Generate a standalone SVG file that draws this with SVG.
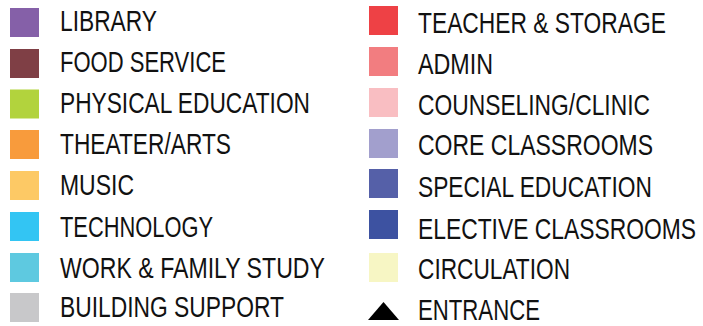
<svg xmlns="http://www.w3.org/2000/svg" width="703" height="326" viewBox="0 0 703 326">
<style>
text{font-family:"Liberation Sans",Arial,sans-serif;font-size:29px;fill:#111;}
</style>
<rect width="703" height="326" fill="#fff"/>
<g id="library"><rect x="10" y="8" width="29" height="29" fill="#8560a8"/><text transform="scale(0.78,1)" x="76.92" y="31" textLength="124.4" lengthAdjust="spacingAndGlyphs">LIBRARY</text></g>
<g id="food"><rect x="10" y="49" width="29" height="29" fill="#7f3f45"/><text transform="scale(0.78,1)" x="76.92" y="72" textLength="212.8" lengthAdjust="spacingAndGlyphs">FOOD SERVICE</text></g>
<g id="pe"><rect x="10" y="89.5" width="29" height="29" fill="#b2d33d"/><text transform="scale(0.78,1)" x="76.92" y="113" textLength="320.5" lengthAdjust="spacingAndGlyphs">PHYSICAL EDUCATION</text></g>
<g id="theater"><rect x="10" y="130" width="29" height="29" fill="#f89b3c"/><text transform="scale(0.78,1)" x="76.92" y="154" textLength="219.2" lengthAdjust="spacingAndGlyphs">THEATER/ARTS</text></g>
<g id="music"><rect x="10" y="171" width="29" height="29" fill="#fdc965"/><text transform="scale(0.78,1)" x="76.92" y="195" textLength="94.9" lengthAdjust="spacingAndGlyphs">MUSIC</text></g>
<g id="technology"><rect x="10" y="212" width="29" height="29" fill="#33c5f3"/><text transform="scale(0.78,1)" x="76.92" y="237" textLength="196.2" lengthAdjust="spacingAndGlyphs">TECHNOLOGY</text></g>
<g id="work"><rect x="10" y="253" width="29" height="29" fill="#5ec9e0"/><text transform="scale(0.78,1)" x="76.92" y="278" textLength="339.7" lengthAdjust="spacingAndGlyphs">WORK &amp; FAMILY STUDY</text></g>
<g id="building"><rect x="10" y="293" width="29" height="29" fill="#c8c8ca"/><text transform="scale(0.78,1)" x="76.92" y="317" textLength="287.2" lengthAdjust="spacingAndGlyphs">BUILDING SUPPORT</text></g>
<g id="teacher"><rect x="369" y="6" width="29" height="29" fill="#ee4145"/><text transform="scale(0.78,1)" x="535.9" y="33" textLength="317.9" lengthAdjust="spacingAndGlyphs">TEACHER &amp; STORAGE</text></g>
<g id="admin"><rect x="369" y="47" width="29" height="29" fill="#f27d80"/><text transform="scale(0.78,1)" x="535.9" y="74" textLength="96.2" lengthAdjust="spacingAndGlyphs">ADMIN</text></g>
<g id="counseling"><rect x="369" y="88" width="29" height="29" fill="#f9bec2"/><text transform="scale(0.78,1)" x="535.9" y="115" textLength="297.4" lengthAdjust="spacingAndGlyphs">COUNSELING/CLINIC</text></g>
<g id="core"><rect x="369" y="129" width="29" height="29" fill="#a29fcd"/><text transform="scale(0.78,1)" x="535.9" y="155.5" textLength="301.3" lengthAdjust="spacingAndGlyphs">CORE CLASSROOMS</text></g>
<g id="special"><rect x="369" y="169" width="29" height="29" fill="#5560a8"/><text transform="scale(0.78,1)" x="535.9" y="197" textLength="300" lengthAdjust="spacingAndGlyphs">SPECIAL EDUCATION</text></g>
<g id="elective"><rect x="369" y="210" width="29" height="29" fill="#3d52a1"/><text transform="scale(0.78,1)" x="535.9" y="239" textLength="356.4" lengthAdjust="spacingAndGlyphs">ELECTIVE CLASSROOMS</text></g>
<g id="circulation"><rect x="369" y="253" width="29" height="29" fill="#f7f6c4"/><text transform="scale(0.78,1)" x="535.9" y="279.5" textLength="194.9" lengthAdjust="spacingAndGlyphs">CIRCULATION</text></g>
<g id="entrance"><polygon points="368,320 383.5,302 399,320" fill="#000"/><text transform="scale(0.78,1)" x="535.9" y="320" textLength="156.4" lengthAdjust="spacingAndGlyphs">ENTRANCE</text></g>
</svg>
